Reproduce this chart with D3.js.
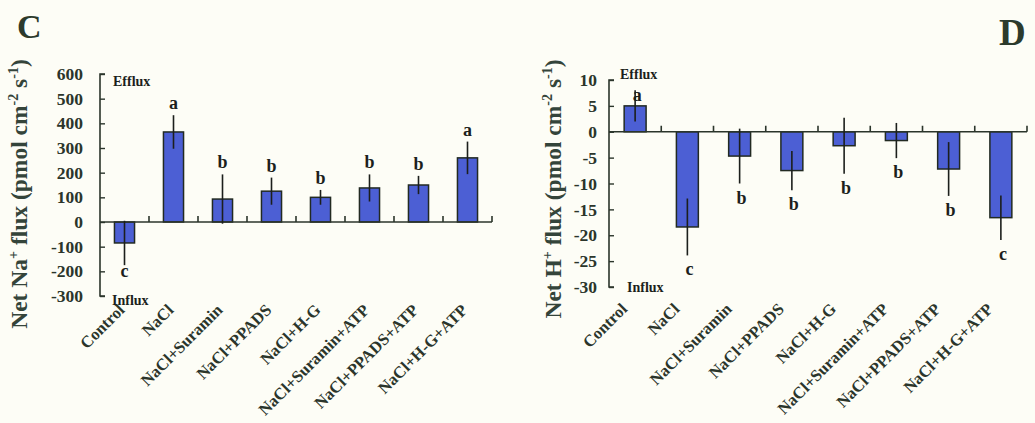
<!DOCTYPE html>
<html>
<head>
<meta charset="utf-8">
<script src="https://cdn.jsdelivr.net/npm/d3@7"></script>
<style>
  html, body { margin: 0; padding: 0; background: #fdfdf6; }
  svg { display: block; }
  text { font-family: "Liberation Serif", "Times New Roman", serif; font-weight: bold; }
</style>
</head>
<body>
<svg id="chart" width="1035" height="423"></svg>
<script>
// Treatments shared by both panels
const categories = [
  "Control", "NaCl", "NaCl+Suramin", "NaCl+PPADS", "NaCl+H-G",
  "NaCl+Suramin+ATP", "NaCl+PPADS+ATP", "NaCl+H-G+ATP"
];

// Panel C: net Na+ flux (pmol cm-2 s-1), mean ± SE
const naMean = [-85, 365, 93, 125, 100, 138, 150, 260];
const naErr  = [90, 68, 100, 55, 30, 55, 37, 66];
const naLetters = ["c", "a", "b", "b", "b", "b", "b", "a"];
const naTicks = [600, 500, 400, 300, 200, 100, 0, -100, -200, -300];

// Panel D: net H+ flux (pmol cm-2 s-1), mean ± SE
const hMean = [5, -18.4, -4.7, -7.5, -2.7, -1.7, -7.2, -16.6];
const hErr  = [3, 5.5, 5.3, 3.8, 5.4, 3.4, 5.2, 4.3];
const hLetters = ["a", "c", "b", "b", "b", "b", "b", "c"];
const hTicks = [10, 5, 0, -5, -10, -15, -20, -25, -30];

const svg = d3.select("#chart");
const ink = "#2b352b";
const barFill = "#4c5fd4";

function panel(cfg) {
  const g = svg.append("g");
  const x = d3.scaleBand().domain(categories).range([cfg.x0, cfg.x1]);
  const y = d3.scaleLinear().domain(cfg.domain).range([cfg.yBottom, cfg.yTop]);
  const barW = x.bandwidth() * cfg.barFrac;

  // y axis: inward ticks, labels to the left
  const yAxis = d3.axisRight(y).tickValues(cfg.ticks).tickSize(5).tickFormat("");
  const ya = g.append("g").attr("transform", `translate(${cfg.x0},0)`).call(yAxis);
  ya.select(".domain").attr("stroke", ink).attr("stroke-width", 1.6).attr("d", `M5,${cfg.yTop}H0V${cfg.yBottom}H5`);
  ya.selectAll(".tick line").attr("stroke", ink).attr("stroke-width", 1.4);

  g.selectAll(".ytl").data(cfg.ticks).join("text")
    .attr("x", cfg.x0 - cfg.labelGap)
    .attr("y", d => y(d))
    .attr("dy", "0.35em")
    .attr("text-anchor", "end")
    .attr("font-size", cfg.tickFont)
    .attr("fill", ink)
    .text(d => d);

  // bars
  g.selectAll(".bar").data(cfg.mean).join("rect")
    .attr("x", (d, i) => x(categories[i]) + (x.bandwidth() - barW) / 2)
    .attr("y", d => y(Math.max(0, d)))
    .attr("width", barW)
    .attr("height", d => Math.abs(y(d) - y(0)))
    .attr("fill", barFill)
    .attr("stroke", "#222a22")
    .attr("stroke-width", 1.5);

  // zero line with upward ticks at band edges
  const xAxis = d3.axisTop(x).tickSize(0).tickFormat("");
  const xa = g.append("g").attr("transform", `translate(0,${y(0)})`).call(xAxis);
  xa.select(".domain").attr("stroke", ink).attr("stroke-width", 1.6).attr("d", `M${cfg.x0},0H${cfg.x1}`);
  xa.selectAll(".tick").remove();
  g.selectAll(".xt").data(categories.slice(1).concat(["end"])).join("line")
    .attr("x1", (d, i) => cfg.x0 + x.step() * (i + 1))
    .attr("x2", (d, i) => cfg.x0 + x.step() * (i + 1))
    .attr("y1", y(0)).attr("y2", y(0) - 6)
    .attr("stroke", ink).attr("stroke-width", 1.6);

  // error bars (no caps)
  g.selectAll(".err").data(cfg.mean).join("line")
    .attr("x1", (d, i) => x(categories[i]) + x.bandwidth() / 2)
    .attr("x2", (d, i) => x(categories[i]) + x.bandwidth() / 2)
    .attr("y1", (d, i) => y(d + cfg.err[i]))
    .attr("y2", (d, i) => y(d - cfg.err[i]))
    .attr("stroke", "#1c1f1c").attr("stroke-width", 1.6);

  // significance letters
  g.selectAll(".sig").data(cfg.letters).join("text")
    .attr("x", (d, i) => x(categories[i]) + x.bandwidth() / 2 + cfg.letterDx)
    .attr("y", (d, i) => cfg.mean[i] >= 0
        ? cfg.letterAbove(y, cfg.mean[i], cfg.err[i])
        : y(cfg.mean[i] - cfg.err[i]) + cfg.letterBelow)
    .attr("text-anchor", "middle")
    .attr("font-size", 18)
    .attr("fill", "#1c1f1c")
    .text(d => d);

  // category labels
  g.selectAll(".xl").data(categories).join("text")
    .attr("transform", d => `translate(${x(d) + x.bandwidth() / 2 + cfg.catDx},${cfg.catY}) rotate(-45)`)
    .attr("text-anchor", "end")
    .attr("font-size", 16.5)
    .attr("fill", ink)
    .text(d => d);

  // direction notes
  g.append("text").attr("x", cfg.effluxX).attr("y", cfg.effluxY).attr("font-size", 14).attr("fill", "#1c1f1c").text("Efflux");
  g.append("text").attr("x", cfg.influxX).attr("y", cfg.influxY).attr("font-size", 14).attr("fill", "#1c1f1c").text("Influx");

  // y title
  const t = g.append("text")
    .attr("transform", `translate(${cfg.titleX},${cfg.titleY}) rotate(-90)`)
    .attr("text-anchor", "middle")
    .attr("font-size", 23.5)
    .attr("fill", "#34443a");
  t.append("tspan").text(`Net ${cfg.ion}`);
  t.append("tspan").attr("dy", -9).attr("font-size", 14).text("+");
  t.append("tspan").attr("dy", 9).text(" flux (pmol cm");
  t.append("tspan").attr("dy", -9).attr("font-size", 14).text("-2");
  t.append("tspan").attr("dy", 9).text(" s");
  t.append("tspan").attr("dy", -9).attr("font-size", 14).text("-1");
  t.append("tspan").attr("dy", 9).text(")");

  // panel letter
  g.append("text").attr("x", cfg.panelX).attr("y", cfg.panelY)
    .attr("font-size", cfg.panelFont).attr("fill", "#2c3a2c").text(cfg.panel);
}

panel({
  panel: "C", panelX: 17, panelY: 38, panelFont: 34, ion: "Na",
  x0: 100, x1: 492, yTop: 74, yBottom: 296, domain: [-300, 600],
  ticks: naTicks, mean: naMean, err: naErr, letters: naLetters,
  barFrac: 0.41, labelGap: 17, tickFont: 17.5,
  letterDx: 0, letterAbove: (y, m, e) => y(m + e) - 6, letterBelow: 12,
  catDx: 1, catY: 311,
  effluxX: 113, effluxY: 86, influxX: 112, influxY: 305,
  titleX: 27, titleY: 194
});

panel({
  panel: "D", panelX: 999, panelY: 45, panelFont: 37, ion: "H",
  x0: 609, x1: 1027, yTop: 80, yBottom: 287, domain: [-30, 10],
  ticks: hTicks, mean: hMean, err: hErr, letters: hLetters,
  barFrac: 0.42, labelGap: 12, tickFont: 17.5,
  letterDx: 2, letterAbove: (y, m, e) => y(m) - 5, letterBelow: 20,
  catDx: -7, catY: 310,
  effluxX: 620, effluxY: 79, influxX: 627, influxY: 292,
  titleX: 561, titleY: 189
});
</script>
</body>
</html>
